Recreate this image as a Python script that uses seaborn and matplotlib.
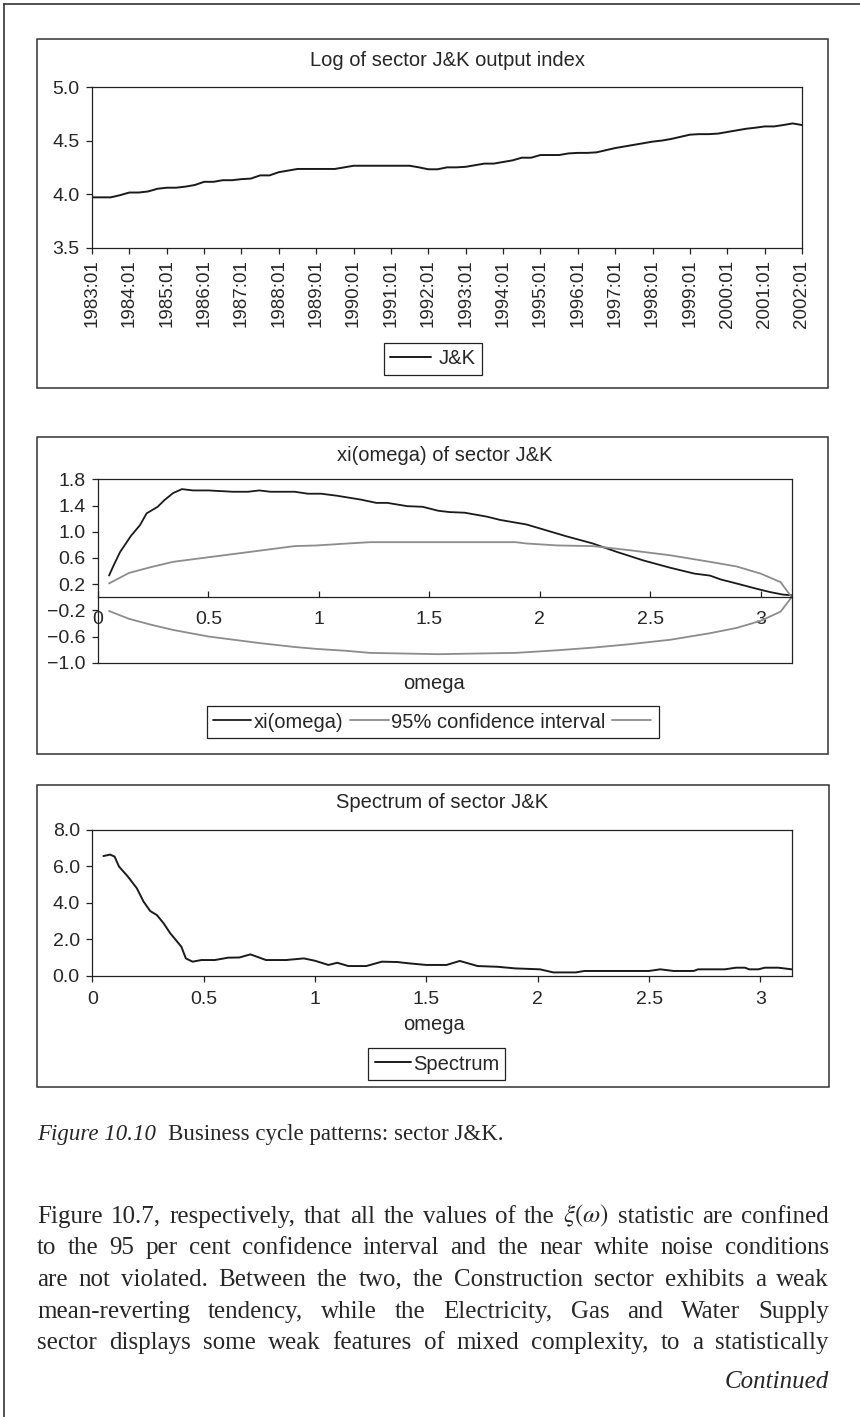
import numpy as np
import pandas as pd
import seaborn as sns
import matplotlib.pyplot as plt
from matplotlib.lines import Line2D
from matplotlib.patches import Rectangle
from matplotlib.ticker import FormatStrFormatter, FuncFormatter

# ---- data ----
# panel 1: log of sector J&K output index, quarterly 1983:01 .. 2002:01
year_labels = [f'{y}:01' for y in range(1983, 2003)]
log_index = [
    3.97, 3.97, 3.97, 3.99,
    4.015, 4.015, 4.025, 4.05,
    4.06, 4.06, 4.07, 4.085,
    4.115, 4.115, 4.13, 4.13,
    4.14, 4.145, 4.175, 4.175,
    4.205, 4.22, 4.235, 4.235,
    4.235, 4.235, 4.235, 4.25,
    4.265, 4.265, 4.265, 4.265,
    4.265, 4.265, 4.265, 4.25,
    4.232, 4.232, 4.25, 4.25,
    4.255, 4.27, 4.285, 4.285,
    4.30, 4.315, 4.34, 4.34,
    4.365, 4.365, 4.365, 4.38,
    4.385, 4.385, 4.39, 4.41,
    4.43, 4.445, 4.46, 4.475,
    4.49, 4.50, 4.515, 4.535,
    4.555, 4.56, 4.56, 4.565,
    4.58, 4.595, 4.61, 4.62,
    4.632, 4.632, 4.645, 4.66,
    4.645,
]

# panel 2: xi(omega) and 95% confidence band
omega_xi = [0.05, 0.07, 0.10, 0.15, 0.19, 0.22, 0.27, 0.30, 0.34, 0.38,
            0.43, 0.50, 0.61, 0.68, 0.73, 0.78, 0.89, 0.95, 1.01, 1.08,
            1.19, 1.26, 1.31, 1.40, 1.47, 1.54, 1.59, 1.66, 1.76, 1.82,
            1.94, 2.00, 2.12, 2.24, 2.35, 2.47, 2.59, 2.70, 2.77, 2.82,
            2.89, 2.98, 3.04, 3.10, 3.14]
xi_values = [0.33, 0.48, 0.69, 0.94, 1.10, 1.28, 1.38, 1.48, 1.59, 1.65,
             1.63, 1.63, 1.61, 1.61, 1.63, 1.61, 1.61, 1.58, 1.58, 1.55,
             1.49, 1.44, 1.44, 1.39, 1.38, 1.32, 1.30, 1.29, 1.23, 1.18,
             1.11, 1.05, 0.93, 0.82, 0.69, 0.56, 0.45, 0.36, 0.33, 0.27,
             0.21, 0.13, 0.08, 0.04, 0.03]
omega_ci = [0.05, 0.14, 0.24, 0.34, 0.50, 0.73, 0.89, 0.99, 1.13, 1.23, 1.54,
            1.89, 1.94, 2.08, 2.24, 2.40, 2.59, 2.77, 2.89, 3.00, 3.09, 3.14]
ci_upper = [0.21, 0.37, 0.46, 0.54, 0.61, 0.71, 0.78, 0.79, 0.82, 0.84, 0.84,
            0.84, 0.82, 0.79, 0.78, 0.72, 0.64, 0.54, 0.47, 0.36, 0.23, 0.0]
ci_lower = [-0.21, -0.33, -0.42, -0.50, -0.60, -0.70, -0.76, -0.79, -0.82, -0.85, -0.87,
            -0.85, -0.84, -0.81, -0.77, -0.72, -0.65, -0.55, -0.47, -0.36, -0.22, 0.0]

# panel 3: spectrum
omega_spec = [0.05, 0.08, 0.10, 0.12, 0.16, 0.20, 0.23, 0.26, 0.29, 0.32,
              0.35, 0.40, 0.42, 0.45, 0.49, 0.55, 0.61, 0.66, 0.71, 0.78,
              0.87, 0.95, 1.00, 1.06, 1.10, 1.15, 1.23, 1.30, 1.37, 1.42,
              1.50, 1.59, 1.65, 1.73, 1.82, 1.90, 2.01, 2.07, 2.17, 2.21,
              2.50, 2.55, 2.61, 2.70, 2.72, 2.84, 2.89, 2.93, 2.95, 2.99,
              3.02, 3.08, 3.14]
spectrum = [6.57, 6.65, 6.54, 5.99, 5.44, 4.80, 4.07, 3.55, 3.33, 2.88,
            2.33, 1.59, 0.95, 0.77, 0.86, 0.86, 0.99, 1.00, 1.17, 0.86,
            0.86, 0.95, 0.82, 0.59, 0.71, 0.53, 0.53, 0.77, 0.75, 0.68,
            0.59, 0.59, 0.81, 0.53, 0.49, 0.40, 0.35, 0.18, 0.18, 0.26,
            0.26, 0.35, 0.26, 0.26, 0.35, 0.35, 0.44, 0.44, 0.35, 0.35,
            0.44, 0.44, 0.35]

caption_italic = 'Figure 10.10'
caption_text = 'Business cycle patterns: sector J&K.'
body_lines = [
    r'Figure 10.7, respectively, that all the values of the $\xi(\omega)$ statistic are confined',
    'to the 95 per cent confidence interval and the near white noise conditions',
    'are not violated. Between the two, the Construction sector exhibits a weak',
    'mean-reverting tendency, while the Electricity, Gas and Water Supply',
    'sector displays some weak features of mixed complexity, to a statistically',
]

# ---- style ----
sns.set_theme(style='ticks')
plt.rcParams['font.family'] = ['Liberation Sans', 'DejaVu Sans']
plt.rcParams['mathtext.fontset'] = 'stix'
plt.rcParams['axes.linewidth'] = 0.9
plt.rcParams['axes.edgecolor'] = '#222222'

W, H = 860, 1417
BLACK = '#1a1a1a'
GREY = '#8c8c8c'
TICK_FS = 14
DATE_FS = 13.5
TITLE_FS = 14.5
LEGEND_FS = 14.5

one_decimal = FuncFormatter(lambda v, pos: f'{v:.1f}'.replace('-', '\u2212'))


def fx(px):
    return px / W


def fy(py):
    return 1 - py / H


def rect(left, top, right, bottom):
    return [left / W, 1 - bottom / H, (right - left) / W, (bottom - top) / H]


def panel_box(fig, left, top, right, bottom):
    fig.add_artist(Rectangle((fx(left), fy(bottom)), (right - left) / W, (bottom - top) / H,
                             transform=fig.transFigure, fill=False, ec='#333333', lw=1.1))


def box_legend(ax, fig, handles, labels, cx, cy, ncol=1, handlelength=2.0, textpad=0.4):
    leg = ax.legend(handles, labels, loc='center', bbox_to_anchor=(fx(cx), fy(cy)),
                    bbox_transform=fig.transFigure, ncol=ncol, frameon=True, fancybox=False,
                    shadow=False, framealpha=1, edgecolor='#222222', fontsize=LEGEND_FS,
                    handlelength=handlelength, handletextpad=textpad, columnspacing=0.35,
                    borderpad=0.3, borderaxespad=0)
    leg.get_frame().set_linewidth(0.9)
    return leg


fig = plt.figure(figsize=(W / 100, H / 100), dpi=100)

# page edge lines (top and left)
fig.add_artist(Line2D([fx(4), 1], [fy(4), fy(4)], transform=fig.transFigure, color='#333333', lw=1.2))
fig.add_artist(Line2D([fx(4), fx(4)], [fy(4), 0], transform=fig.transFigure, color='#333333', lw=1.2))

# ---- panel 1 ----
panel_box(fig, 37, 39, 828, 388)
ax1 = fig.add_axes(rect(92, 87, 802, 247.7))
df1 = pd.DataFrame({'quarter': range(len(log_index)), 'value': log_index})
sns.lineplot(data=df1, x='quarter', y='value', ax=ax1, color=BLACK, lw=1.4, legend=False)
ax1.set_xlim(0, len(log_index) - 1)
ax1.set_ylim(3.5, 5.0)
ax1.set_xticks(range(0, len(log_index), 4))
ax1.set_xticklabels(year_labels, rotation=90, fontsize=DATE_FS)
ax1.set_yticks([3.5, 4.0, 4.5, 5.0])
ax1.yaxis.set_major_formatter(one_decimal)
ax1.set_xlabel('')
ax1.set_ylabel('')
ax1.tick_params(axis='both', length=4, width=0.9, color='#222222')
ax1.tick_params(axis='y', pad=5, labelsize=TICK_FS)
ax1.tick_params(axis='x', pad=4.5)
fig.text(fx(447), fy(61), 'Log of sector J&K output index', ha='center', va='center', fontsize=TITLE_FS)
box_legend(ax1, fig, [Line2D([], [], color=BLACK, lw=1.4)], ['J&K'], 433, 359)

# ---- panel 2 ----
panel_box(fig, 37, 437, 828, 754)
ax2 = fig.add_axes(rect(98, 479.3, 792, 662.7))
df_xi = pd.DataFrame({'omega': omega_xi, 'value': xi_values})
df_ci = pd.DataFrame({'omega': omega_ci, 'upper': ci_upper, 'lower': ci_lower})
sns.lineplot(data=df_xi, x='omega', y='value', ax=ax2, color=BLACK, lw=1.3, legend=False)
sns.lineplot(data=df_ci, x='omega', y='upper', ax=ax2, color=GREY, lw=1.3, legend=False)
sns.lineplot(data=df_ci, x='omega', y='lower', ax=ax2, color=GREY, lw=1.3, legend=False)
ax2.set_xlim(0, np.pi)
ax2.set_ylim(-1.0, 1.8)
ax2.set_xticks([0, 0.5, 1, 1.5, 2, 2.5, 3])
ax2.xaxis.set_major_formatter(FormatStrFormatter('%g'))
ax2.set_yticks([-1.0, -0.6, -0.2, 0.2, 0.6, 1.0, 1.4, 1.8])
ax2.yaxis.set_major_formatter(one_decimal)
ax2.spines['bottom'].set_position(('data', 0))
ax2.plot([0, 1], [0, 0], transform=ax2.transAxes, color='#222222', lw=0.9, clip_on=False)
ax2.set_xlabel('')
ax2.set_ylabel('')
ax2.tick_params(axis='both', width=0.9, color='#222222', labelsize=TICK_FS)
ax2.tick_params(axis='y', length=4, pad=5)
ax2.tick_params(axis='x', direction='in', length=4, pad=10)
fig.text(fx(445), fy(455), 'xi(omega) of sector J&K', ha='center', va='center', fontsize=TITLE_FS)
fig.text(fx(434), fy(683), 'omega', ha='center', va='center', fontsize=TITLE_FS)
box_legend(ax2, fig,
           [Line2D([], [], color=BLACK, lw=1.3), Line2D([], [], color=GREY, lw=1.3),
            Line2D([], [], color=GREY, lw=1.3)],
           ['xi(omega)', '95% confidence interval', ''], 433, 722,
           ncol=3, handlelength=1.9, textpad=0.12)

# ---- panel 3 ----
panel_box(fig, 37, 785, 829, 1087)
ax3 = fig.add_axes(rect(92.3, 830, 792, 975.7))
df_sp = pd.DataFrame({'omega': omega_spec, 'value': spectrum})
sns.lineplot(data=df_sp, x='omega', y='value', ax=ax3, color=BLACK, lw=1.4, legend=False)
ax3.set_xlim(0, np.pi)
ax3.set_ylim(0, 8)
ax3.set_xticks([0, 0.5, 1, 1.5, 2, 2.5, 3])
ax3.xaxis.set_major_formatter(FormatStrFormatter('%g'))
ax3.set_yticks([0, 2, 4, 6, 8])
ax3.yaxis.set_major_formatter(one_decimal)
ax3.set_xlabel('')
ax3.set_ylabel('')
ax3.tick_params(axis='both', length=4, width=0.9, color='#222222', labelsize=TICK_FS)
ax3.tick_params(axis='y', pad=5)
ax3.tick_params(axis='x', pad=7)
fig.text(fx(442), fy(803), 'Spectrum of sector J&K', ha='center', va='center', fontsize=TITLE_FS)
fig.text(fx(434), fy(1025), 'omega', ha='center', va='center', fontsize=TITLE_FS)
box_legend(ax3, fig, [Line2D([], [], color=BLACK, lw=1.4)], ['Spectrum'], 437, 1064,
           handlelength=1.8, textpad=0.12)

# ---- caption and running text ----
renderer = fig.canvas.get_renderer()
SERIF = ['Liberation Serif', 'DejaVu Serif']
CAP_FS = 16.5
BODY_FS = 18

cap = fig.text(fx(37), fy(1140), caption_italic, fontsize=CAP_FS, family=SERIF, style='italic',
               va='baseline', ha='left')
cap_w = cap.get_window_extent(renderer).width
fig.text(fx(37 + cap_w + 12), fy(1140), caption_text, fontsize=CAP_FS, family=SERIF,
         va='baseline', ha='left')

x_left, x_right = 37, 829
for i, line in enumerate(body_lines):
    base = 1222.7 + i * 31.65
    words = line.split(' ')
    texts = [fig.text(0, fy(base), w, fontsize=BODY_FS, family=SERIF, va='baseline', ha='left')
             for w in words]
    widths = [t.get_window_extent(renderer).width for t in texts]
    gap = (x_right - x_left - sum(widths)) / (len(words) - 1)
    x = x_left
    for t, w in zip(texts, widths):
        t.set_x(fx(x))
        x += w + gap

fig.text(fx(829), fy(1388.3), 'Continued', fontsize=BODY_FS, family=SERIF, style='italic',
         va='baseline', ha='right')

fig.savefig('out.png', dpi=100)
